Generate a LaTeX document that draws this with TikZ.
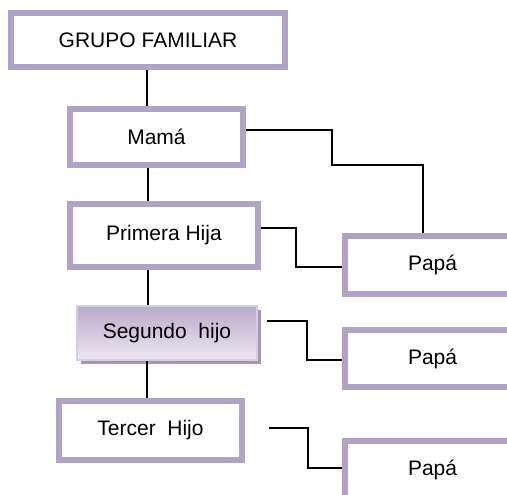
\documentclass[tikz,border=0pt]{standalone}
\usepackage{fontspec}
\setmainfont{Liberation Sans}
\usetikzlibrary{shadows}
\definecolor{lila}{HTML}{B3A2C7}
\definecolor{lilaosc}{HTML}{A497B3}
\tikzset{
	caja/.style={draw=lila, line width=6pt, fill=white, inner sep=0pt, font=\fontsize{21}{25}\selectfont},
	cajapapa/.style={caja, anchor=west, inner xsep=63pt, text width=200pt, align=left, minimum height=58pt},
	cajasombra/.style={draw=lila!55, line width=1.5pt, inner sep=0pt, top color=lila!92, bottom color=lila!25,
		font=\fontsize{21}{25}\selectfont,
		drop shadow={shadow xshift=4pt, shadow yshift=-4pt, fill=lilaosc, opacity=1}},
	enlace/.style={line width=1.5pt, black},
}

\begin{document}
\begin{tikzpicture}[x=1pt, y=-1pt]
			%%%%% START %%%%%
			\useasboundingbox (0, 0) rectangle (507, 495);
			\clip (0, 0) rectangle (507, 495);
			
			\node[caja, minimum width=274pt, minimum height=54pt] (grupo) at (148, 40) {GRUPO FAMILIAR};
			\node[caja, minimum width=173pt, minimum height=56pt] (mama) at (156.5, 137) {Mamá};
			\node[caja, minimum width=188pt, minimum height=63pt] (primera) at (164, 235.5) {Primera Hija};
			\node[cajasombra, minimum width=180pt, minimum height=54pt] (segundo) at (167, 333) {Segundo~ hijo};
			\node[caja, minimum width=183pt, minimum height=59pt] (tercer) at (150.5, 430.5) {Tercer~ Hijo};
			
			\node[cajapapa] (papa1) at (342, 265) {Papá};
			\node[cajapapa, minimum height=57pt] (papa2) at (342, 358.5) {Papá};
			\node[cajapapa] (papa3) at (342, 470) {Papá};
			
			% linea de los hijos
			\draw[enlace] (grupo.south -| 147, 0) -- (mama.north -| 147, 0);
			\draw[enlace] (mama.south -| 148, 0) -- (primera.north -| 148, 0);
			\draw[enlace] (primera.south -| 148, 0) -- (segundo.north -| 148, 0);
			\draw[enlace] (segundo.south -| 147, 0) -- (tercer.north -| 147, 0);
			
			% enlaces con papa
			\coordinate (s0) at (267, 321);
			\coordinate (t0) at (269, 428);
			\draw[enlace] (mama.east |- 0, 130) -| (332, 165) -| (papa1.north -| 423, 0);
			\draw[enlace] (primera.east |- 0, 228) -| (296, 267) -- (papa1.west |- 0, 267);
			\draw[enlace] (s0) -| (307, 360) -- (papa2.west |- 0, 360);
			\draw[enlace] (t0) -| (308, 468) -- (papa3.west |- 0, 468);
			
			%%%%% END %%%%%
\end{tikzpicture}
\end{document}
